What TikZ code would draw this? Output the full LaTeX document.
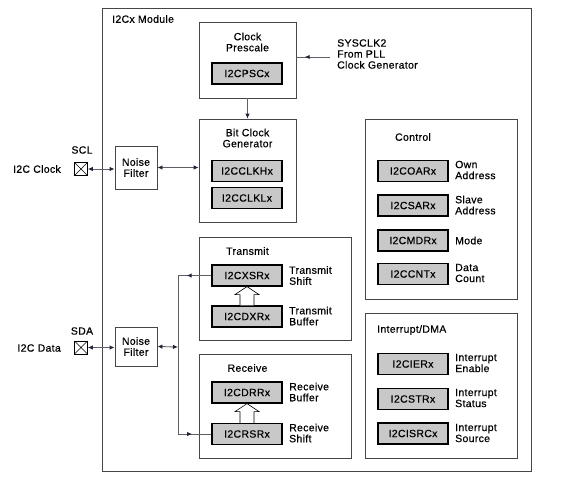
\documentclass[tikz,border=0pt]{standalone}
\usepackage{fontspec}
\setmainfont[LetterSpace=3,FakeBold=0.5]{Liberation Sans}
\usetikzlibrary{positioning,arrows.meta,calc,decorations.markings}
\definecolor{regfill}{RGB}{200,200,200}
\definecolor{linec}{RGB}{95,95,100}
\definecolor{headc}{RGB}{35,35,55}
\definecolor{framec}{RGB}{70,70,70}
\newcommand\txtfont{\fontsize{10.5}{11}\selectfont}
\newcommand\regfont{\fontsize{10.5}{11}\selectfont}
\tikzset{
  module/.style   = {draw=framec, line width=0.9pt},
  block/.style    = {draw=framec, line width=0.6pt},
  reg/.style      = {draw=black, line width=1.2pt, fill=regfill, minimum width=70pt,
                     minimum height=21pt, inner sep=0pt, font=\regfont},
  ttl/.style      = {align=center, font=\txtfont, inner sep=0pt},
  lbl/.style      = {align=left, anchor=west, font=\txtfont, inner sep=0pt},
  pin/.style      = {draw=black, line width=0.6pt, minimum size=13pt, inner sep=0pt,
                     path picture={\draw[line width=0.5pt]
                       (path picture bounding box.south west) -- (path picture bounding box.north east)
                       (path picture bounding box.north west) -- (path picture bounding box.south east);}},
  link/.style     = {draw=linec, line width=0.9pt},
  bus/.style      = {link, {Latex[length=5pt,width=4.5pt,color=headc]}-{Latex[length=5pt,width=4.5pt,color=headc]}},
  feed/.style     = {link, -{Latex[length=5pt,width=4.5pt,color=headc]}},
  midarrow/.style = {link, postaction=decorate, decoration={markings,
                     mark=at position #1 with {\arrow[headc]{Latex[length=5pt,width=4.5pt]}}}},
  hollow/.style   = {draw=black, line width=0.6pt, fill=white},
}
% hollow transfer arrow from lower register #1 up to upper register #2
\newcommand\pushup[2]{%
  \draw[hollow] ($(#1.north)+(-7,0)$) -- ($(#2.south)+(-7,8)$) -- ($(#2.south)+(-12,8)$)
    -- (#2.south) -- ($(#2.south)+(12,8)$) -- ($(#2.south)+(7,8)$) -- ($(#1.north)+(7,0)$);}

\begin{document}
\begin{tikzpicture}[x=1pt, y=-1pt]
\useasboundingbox (0,0) rectangle (585,479);

% module frame, coordinates in pixels of the page (y grows downwards)
\node[module, minimum width=429pt, minimum height=463pt] (mod) at (316.5,239.5) {};
\node[lbl] (modname) at (112,19) {I2Cx Module};

% clock path
\node[block, minimum width=97pt, minimum height=76pt] (pre) at (247.5,60) {};
\node[ttl] (pretitle) at (247.5,42) {Clock\\Prescale};
\node[reg] (psc) at (247,73.5) {I2CPSCx};
\node[lbl] (sysclk) at (337,54) {SYSCLK2\\From PLL\\Clock Generator};
\coordinate (pll) at (330,57);

\node[block, minimum width=97pt, minimum height=103pt] (bcg) at (247.5,170.5) {};
\node[ttl] (bcgtitle) at (247.5,138) {Bit Clock\\Generator};
\node[reg] (clkh) at (247,171) {I2CCLKHx};
\node[reg] (clkl) at (247,198) {I2CCLKLx};

\node[pin] (scl) at (81,169) {};
\node[ttl] (scllbl) at (82,150) {SCL};
\node[lbl, anchor=east] (sclname) at (61,169) {I2C Clock};
\node[block, line width=0.9pt, minimum width=42pt, minimum height=43pt, ttl] (nf1) at (136,167.5) {Noise\\Filter};

% data path
\node[pin] (sda) at (81,347.5) {};
\node[ttl] (sdalbl) at (82,331) {SDA};
\node[lbl, anchor=east] (sdaname) at (61,348) {I2C Data};
\node[block, line width=0.9pt, minimum width=42pt, minimum height=39pt, ttl] (nf2) at (136,346.5) {Noise\\Filter};
\coordinate (jn) at (178,347);

\node[block, minimum width=152pt, minimum height=103pt] (tx) at (275,288.5) {};
\node[ttl] (txtitle) at (247.5,251) {Transmit};
\node[reg] (xsr) at (247,275.5) {I2CXSRx};
\node[reg] (dxr) at (247,316.5) {I2CDXRx};
\node[lbl] at (289,275.5) {Transmit\\Shift};
\node[lbl] at (289,316) {Transmit\\Buffer};

\node[block, minimum width=152pt, minimum height=104pt] (rx) at (275,406) {};
\node[ttl] (rxtitle) at (247.5,368) {Receive};
\node[reg] (drr) at (247,392.5) {I2CDRRx};
\node[reg] (rsr) at (247,434) {I2CRSRx};
\node[lbl] at (289,392) {Receive\\Buffer};
\node[lbl] at (289,433) {Receive\\Shift};

% control registers
\node[block, minimum width=152pt, minimum height=180pt] (ctl) at (441,209) {};
\node[ttl] (ctltitle) at (413,137) {Control};
\node[reg] (oar) at (413,171) {I2COARx};
\node[reg] (sar) at (413,205.5) {I2CSARx};
\node[reg] (mdr) at (413,240.5) {I2CMDRx};
\node[reg] (cnt) at (413,274) {I2CCNTx};
\node[lbl] at (455,170) {Own\\Address};
\node[lbl] at (455,205) {Slave\\Address};
\node[lbl] at (455,240.5) {Mode};
\node[lbl] at (455,273) {Data\\Count};

% interrupt registers
\node[block, minimum width=152pt, minimum height=145pt] (irq) at (441,385.5) {};
\node[lbl] (irqtitle) at (377,330) {Interrupt/DMA};
\node[reg] (ier) at (413,364) {I2CIERx};
\node[reg] (str) at (413,399) {I2CSTRx};
\node[reg] (isrc) at (413,433.5) {I2CISRCx};
\node[lbl] at (455,363) {Interrupt\\Enable};
\node[lbl] at (455,398) {Interrupt\\Status};
\node[lbl] at (455,433) {Interrupt\\Source};

% connections
\draw[midarrow=0.75] (pll) -- (pll -| pre.east);
\draw[feed] (pre) -- (bcg);
\draw[bus] (scl.east) -- (scl.east -| nf1.west);
\draw[bus] (nf1.east) -- (nf1.east -| bcg.west);
\draw[bus] (sda.east) -- (sda.east -| nf2.west);
\draw[bus] (nf2.east) -- (jn);
\draw[link] (xsr.west -| jn) -- (rsr.west -| jn);
\draw[midarrow=0.74] (xsr.west) -- (xsr.west -| jn);
\draw[midarrow=0.42] (rsr.west -| jn) -- (rsr.west);
\pushup{dxr}{xsr}
\pushup{rsr}{drr}

\end{tikzpicture}
\end{document}
